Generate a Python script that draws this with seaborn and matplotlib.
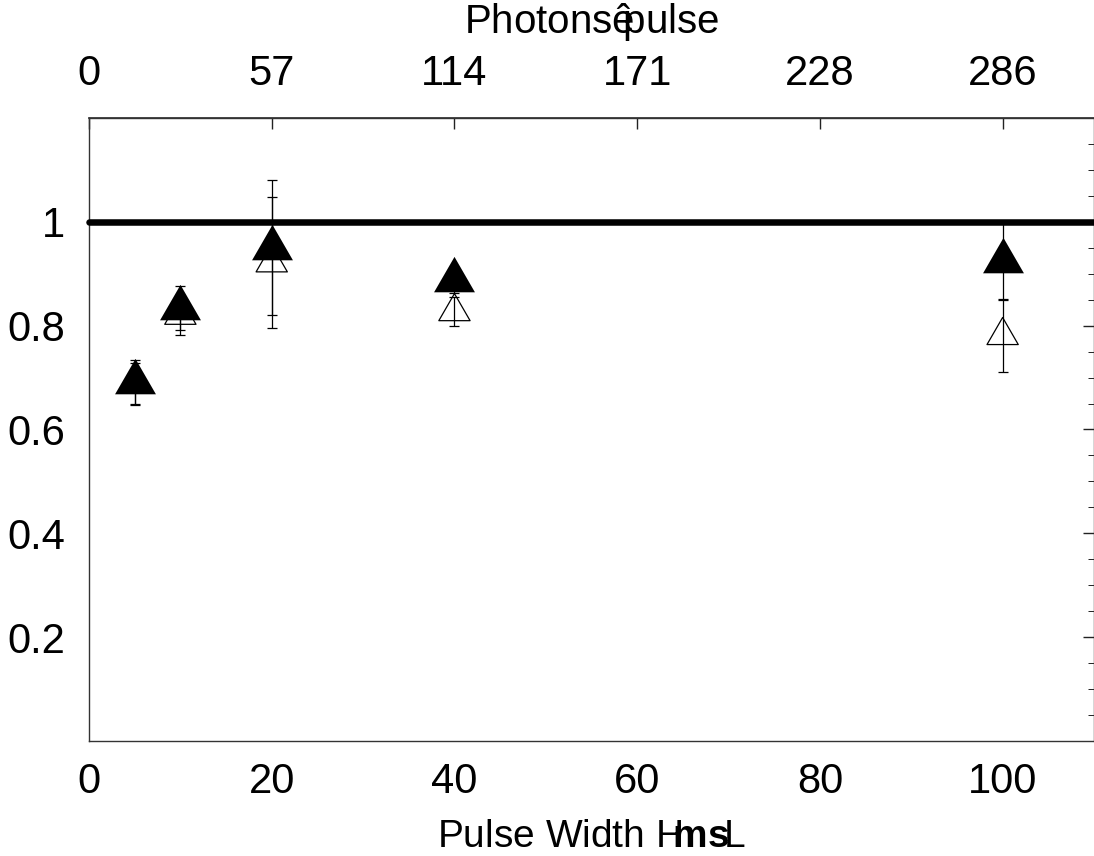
import numpy as np
import matplotlib
matplotlib.use("Agg")
import matplotlib.pyplot as plt
from matplotlib.path import Path
from matplotlib.ticker import MultipleLocator
import seaborn as sns

# Measured ratios versus pulse width (two conditions, with error bars)
pulse_width = [5, 10, 20, 40, 100]
ratio_filled = [0.692, 0.834, 0.950, 0.887, 0.924]
err_filled = [0.042, 0.043, 0.130, 0.024, 0.075]
ratio_open = [0.688, 0.820, 0.921, 0.827, 0.781]
err_open = [0.040, 0.038, 0.126, 0.028, 0.070]

bottom_ticks = [0, 20, 40, 60, 80, 100]
top_tick_labels = ["0", "57", "114", "171", "228", "286"]
y_ticks = [0.2, 0.4, 0.6, 0.8, 1.0]
y_tick_labels = ["0.2", "0.4", "0.6", "0.8", "1"]
reference_level = 1.0

sns.set_theme(style="white")
plt.rcParams["font.family"] = ["Liberation Sans", "DejaVu Sans"]
plt.rcParams.update({
    "mathtext.fontset": "custom",
    "mathtext.rm": "Liberation Sans",
    "mathtext.it": "Liberation Sans:italic",
    "mathtext.bf": "Liberation Sans:bold",
})

fig = plt.figure(figsize=(10.94, 8.56), dpi=100)
ax = fig.add_axes([89 / 1094, 1 - 741 / 856, 1005 / 1094, 623 / 856])

# equilateral triangle whose centroid sits on the data point
h = np.sqrt(3) / 2
tri = Path([(0, 1), (-h, -0.5), (h, -0.5), (0, 1)],
           [Path.MOVETO, Path.LINETO, Path.LINETO, Path.CLOSEPOLY])

# open triangles
sns.scatterplot(x=pulse_width, y=ratio_open, marker=tri, s=26 ** 2,
                color="black", linewidth=0.9, ax=ax, zorder=2, clip_on=False)
ax.collections[-1].set_facecolor("none")
ax.collections[-1].set_edgecolor("black")

# error bars for both series
ax.errorbar(pulse_width, ratio_open, yerr=err_open, fmt="none", ecolor="black",
            elinewidth=0.9, capsize=3.6, capthick=0.9, zorder=3)
ax.errorbar(pulse_width, ratio_filled, yerr=err_filled, fmt="none", ecolor="black",
            elinewidth=0.9, capsize=3.6, capthick=0.9, zorder=3)

# filled triangles
sns.scatterplot(x=pulse_width, y=ratio_filled, marker=tri, s=34 ** 2,
                color="black", edgecolor="black", linewidth=0, ax=ax, zorder=4)

# reference level
sns.lineplot(x=[0, 110], y=[reference_level, reference_level], color="black",
             linewidth=4.7, ax=ax, zorder=5, solid_capstyle="round", clip_on=False)

ax.set_xlim(0, 110)
ax.set_ylim(0, 1.2)
ax.set_xticks(bottom_ticks)
ax.set_xticklabels([str(t) for t in bottom_ticks])
ax.set_yticks(y_ticks)
ax.set_yticklabels(y_tick_labels)
ax.yaxis.set_minor_locator(MultipleLocator(0.05))

for side in ["left", "bottom", "right", "top"]:
    ax.spines[side].set_visible(True)
    ax.spines[side].set_color("#333333")
    ax.spines[side].set_linewidth(1.0)

ax.tick_params(axis="both", which="both", direction="in", right=True, top=False,
               color="#222222")
ax.tick_params(which="major", length=8, width=1.0)
ax.tick_params(which="minor", length=4, width=0.7)
ax.tick_params(axis="x", labelsize=30, pad=15, labelcolor="black")
ax.tick_params(axis="y", labelsize=30, pad=17, labelcolor="black")

secax = ax.secondary_xaxis("top")
secax.set_xticks(bottom_ticks)
secax.set_xticklabels(top_tick_labels)
secax.tick_params(direction="in", length=8, width=1.0, labelsize=30, pad=17,
                  color="#222222", labelcolor="black")
secax.spines["top"].set_color("#333333")

ax.set_xlabel("")
ax.set_ylabel("")

cx = (89 + 1094) / 2 / 1094
fig.text(cx, 1 - 33 / 856, r"Photonsê$\!\!$pulse", ha="center",
         va="baseline", fontsize=29, color="black")
fig.text(cx, 1 - 847 / 856, r"Pulse Width H$\!\!\mathbf{ms}\!$L",
         ha="center", va="baseline", fontsize=28, color="black")

fig.savefig("out.png", dpi=100)
